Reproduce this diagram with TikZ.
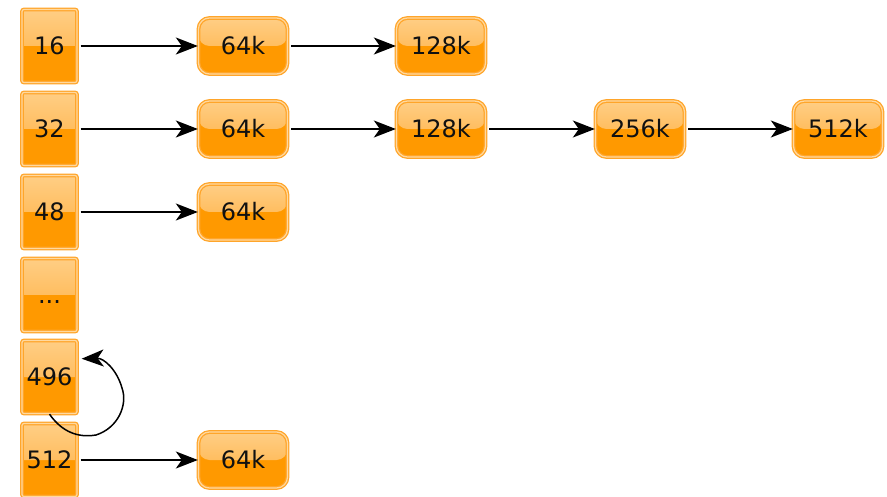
\documentclass[tikz,border=0pt]{standalone}
\usepackage{fontspec}
\setmainfont{DejaVu Sans}
\usetikzlibrary{arrows.meta}
\definecolor{orbase}{HTML}{FF9900}
\definecolor{orlight}{HTML}{FFCE85}
\definecolor{ormid}{HTML}{FFAD3A}
\definecolor{oredge}{HTML}{FFA52A}
\definecolor{orglow}{HTML}{FFD9A0}
\definecolor{txt}{HTML}{111111}
\tikzset{
  glossy/.style={
    fill=orbase, draw=oredge, line width=1.3pt,
    double=orglow, double distance=1.2pt,
    text=txt, font=\fontsize{24}{27}\selectfont,
    path picture={
      \fill[top color=orlight, bottom color=ormid]
        (path picture bounding box.north west) rectangle (path picture bounding box.east);
    }
  },
  slot/.style={glossy, rectangle, rounded corners=2pt, minimum width=55pt, minimum height=73pt, inner sep=0pt},
  chunk/.style={glossy, rectangle, rounded corners=11pt, minimum width=89pt, minimum height=56pt, inner sep=0pt},
  tip/.style={-{Stealth[length=22pt,width=17pt,inset=6pt]}},
  link/.style={tip, line width=1.8pt, black, shorten <=3pt}
}
\begin{document}
\begin{tikzpicture}[x=1pt,y=-1pt]
  \useasboundingbox (0,0) rectangle (887,497);
  % size-class slots
  \node[slot] (s16)  at (49.5,46)  {16};
  \node[slot] (s32)  at (49.5,129) {32};
  \node[slot] (s48)  at (49.5,212) {48};
  \node[slot] (sdot) at (49.5,295) {\vphantom{0}...};
  \node[slot] (s496) at (49.5,377) {496};
  \node[slot] (s512) at (49.5,460) {512};
  % chunk lists
  \node[chunk] (a1) at (243,46) {64k};
  \node[chunk] (a2) at (441,46) {128k};
  \node[chunk] (b1) at (243,129) {64k};
  \node[chunk] (b2) at (441,129) {128k};
  \node[chunk] (b3) at (640,129) {256k};
  \node[chunk] (b4) at (838,129) {512k};
  \node[chunk] (c1) at (243,212) {64k};
  \node[chunk] (d1) at (243,460) {64k};
  % links
  \draw[link] (s16) -- (a1);
  \draw[link] (a1) -- (a2);
  \draw[link] (s32) -- (b1);
  \draw[link] (b1) -- (b2);
  \draw[link] (b2) -- (b3);
  \draw[link] (b3) -- (b4);
  \draw[link] (s48) -- (c1);
  \draw[link] (s512) -- (d1);
  % loop back into the 496 slot
  \draw[tip, line width=1.5pt, black]
    (s496.south) .. controls (62,432) and (78,438) .. (96,435)
    .. controls (118,428) and (128,405) .. (122,388)
    .. controls (117,370) and (104,358) .. ([xshift=4pt]s496.33);
\end{tikzpicture}
\end{document}
